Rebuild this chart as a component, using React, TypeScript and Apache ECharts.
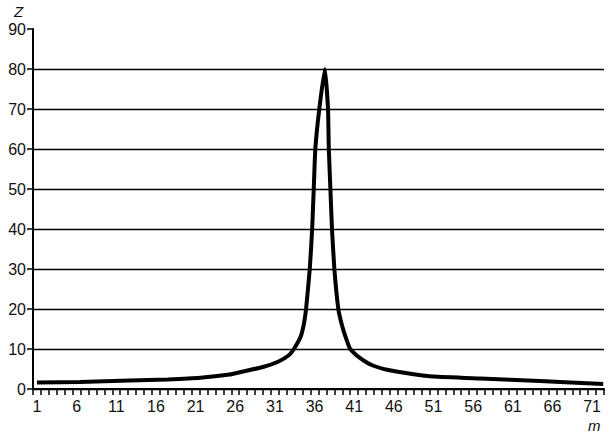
import React, { useEffect, useRef } from "react";
import * as echarts from "echarts";

const categories: string[] = Array.from({ length: 72 }, (_, i) => String(i + 1));
const curveX: number[] = [1.0, 6.4, 12.7, 17.5, 21.6, 25.3, 26.6, 29.5, 31.4, 32.8, 33.4, 34.26, 34.67, 34.93, 35.4, 35.7, 35.9, 36.1, 36.6, 37.3, 37.7, 37.8, 38.0, 38.2, 38.5, 39.0, 39.4, 39.9, 40.5, 41.5, 43.2, 45.3, 48.3, 51.0, 56.9, 64.4, 72.4];
const curveZ: number[] = [1.6, 1.75, 2.1, 2.4, 2.8, 3.6, 4.2, 5.5, 6.8, 8.5, 10, 13.1, 16.4, 20, 30, 40, 50, 60, 70, 80, 70, 60, 50, 40, 30, 20, 16.4, 13.1, 10, 8.1, 6.0, 4.75, 3.75, 3.1, 2.6, 2.0, 1.25];
const yMin = 0;
const yMax = 90;
const yInterval = 10;

export default function App() {
  const ref = useRef<HTMLDivElement>(null);
  useEffect(() => {
    if (!ref.current) return;
    const chart = echarts.init(ref.current, null, { renderer: "svg" });
    const font = "'Liberation Sans', Arial, sans-serif";
    const gridColors = Array.from({ length: 10 }, (_, i) => (i === 9 ? "transparent" : "#000"));
    chart.setOption({
      animation: false,
      backgroundColor: "#fff",
      grid: { left: 33, right: 10, top: 29, bottom: 46, containLabel: false },
      xAxis: [
        {
          type: "category",
          data: categories,
          boundaryGap: true,
          axisLine: { show: true, lineStyle: { color: "#000", width: 2 } },
          axisTick: { show: true, interval: 0, length: 6, lineStyle: { color: "#000", width: 1.5 } },
          axisLabel: { interval: 4, color: "#111", fontSize: 16, lineHeight: 16, fontFamily: font, margin: 9 },
          splitLine: { show: false },
        },
        {
          type: "value",
          min: 0.5,
          max: 72.5,
          show: false,
        },
      ],
      yAxis: {
        type: "value",
        min: yMin,
        max: yMax,
        interval: yInterval,
        axisLine: { show: true, lineStyle: { color: "#000", width: 2 } },
        axisTick: { show: true, length: 6, lineStyle: { color: "#000", width: 1.5 } },
        axisLabel: { color: "#111", fontSize: 16, fontFamily: font, margin: 7 },
        splitLine: { show: true, lineStyle: { color: gridColors, width: 1.3 } },
      },
      graphic: [
        { type: "text", left: 14, top: 4, style: { text: "Z", fill: "#111", fontSize: 15, fontStyle: "italic", fontFamily: font } },
        { type: "text", left: 588, top: 418, style: { text: "m", fill: "#111", fontSize: 15, lineHeight: 13, fontStyle: "italic", fontFamily: font } },
      ],
      series: [
        {
          type: "line",
          xAxisIndex: 1,
          data: curveX.map((x, i) => [x, curveZ[i]]),
          showSymbol: false,
          smooth: 0.15,
          lineStyle: { color: "#000", width: 4 },
        },
      ],
    });
    return () => chart.dispose();
  }, []);
  return <div ref={ref} style={{ width: 614, height: 435, position: "absolute", left: 0, top: 0 }} />;
}
